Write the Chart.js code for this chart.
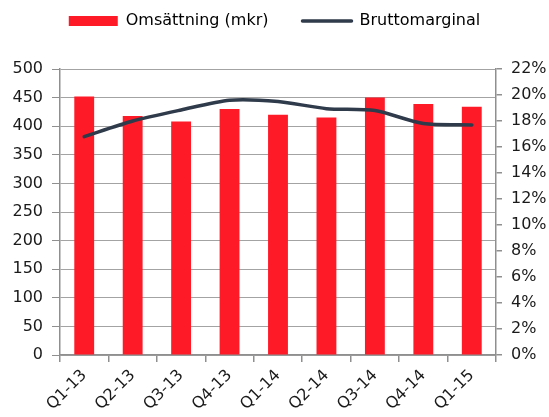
<!DOCTYPE html>
<html>
<head>
<meta charset="utf-8">
<script src="https://cdn.jsdelivr.net/npm/chart.js@4/dist/chart.umd.min.js"></script>
<style>
  html, body { margin: 0; padding: 0; background: #fff; }
  #wrap { width: 549px; height: 417px; }
</style>
</head>
<body>
<div id="wrap"><canvas id="chart" width="549" height="417"></canvas></div>
<script>
// Data
const quarters = ['Q1-13', 'Q2-13', 'Q3-13', 'Q4-13', 'Q1-14', 'Q2-14', 'Q3-14', 'Q4-14', 'Q1-15'];
const revenue = [452, 418, 408, 430, 420, 415, 450, 439, 434];          // Omsättning (mkr)
const grossMargin = [16.8, 18.0, 18.85, 19.6, 19.5, 18.95, 18.8, 17.8, 17.7]; // Bruttomarginal (%)
const seriesNames = ['Omsättning (mkr)', 'Bruttomarginal'];

const RED = '#ff1a28';
const NAVY = '#2f3a4a';
const GRID = '#a3a3a3';
const AXIS = '#8f8f8f';
const FONT = { family: '"DejaVu Sans", sans-serif', size: 16 };

Chart.defaults.font = FONT;
Chart.defaults.color = '#1a1a1a';

new Chart(document.getElementById('chart').getContext('2d'), {
    type: 'bar',
    data: {
        labels: quarters,
        datasets: [
            {
                type: 'line',
                label: seriesNames[1],
                data: grossMargin,
                yAxisID: 'y1',
                borderColor: NAVY,
                borderWidth: 3.5,
                borderCapStyle: 'round',
                borderJoinStyle: 'round',
                tension: 0.25,
                pointRadius: 0,
                fill: false,
                order: 0
            },
            {
                type: 'bar',
                label: seriesNames[0],
                data: revenue,
                yAxisID: 'y',
                backgroundColor: RED,
                barPercentage: 0.41,
                categoryPercentage: 1,
                order: 1
            }
        ]
    },
    options: {
        responsive: false,
        animation: false,
        // legend sits high; the empty subtitle below it keeps the plot top at ~69px
        layout: { padding: { top: -21, left: 0, right: 0, bottom: 0 } },
        plugins: {
            tooltip: { enabled: false },
            subtitle: {
                display: true,
                text: '',
                position: 'top',
                weight: 500,
                font: { size: 10 },
                padding: { top: 0, bottom: 18 }
            },
            legend: {
                position: 'top',
                labels: {
                    usePointStyle: true,
                    pointStyleWidth: 49,
                    boxHeight: 10,
                    padding: 34,
                    color: '#1a1a1a',
                    font: FONT,
                    generateLabels: () => [
                        { text: seriesNames[0], pointStyle: 'rect', fillStyle: RED, strokeStyle: RED, lineWidth: 0, datasetIndex: 1 },
                        { text: seriesNames[1], pointStyle: 'line', fillStyle: NAVY, strokeStyle: NAVY, lineWidth: 3.5, lineCap: 'round', datasetIndex: 0 }
                    ]
                }
            }
        },
        scales: {
            x: {
                offset: true,
                grid: {
                    offset: true,
                    drawOnChartArea: false,
                    drawTicks: true,
                    tickLength: 7,
                    color: AXIS,
                    lineWidth: 1.5
                },
                border: { color: AXIS, width: 1.5 },
                ticks: { minRotation: 45, maxRotation: 45, padding: 4, font: FONT },
                afterFit: s => { s.height = 62; }
            },
            y: {
                position: 'left',
                min: 0,
                max: 500,
                ticks: { stepSize: 50, padding: 9, font: FONT },
                grid: { color: GRID, lineWidth: 1, tickLength: 8, tickColor: AXIS },
                border: { color: AXIS, width: 1.5 },
                afterFit: s => { s.width = 60; }
            },
            y1: {
                position: 'right',
                min: 0,
                max: 22,
                ticks: { stepSize: 2, padding: 9, font: FONT, callback: v => v + '%' },
                grid: { drawOnChartArea: false, tickLength: 6, color: AXIS, lineWidth: 1.5 },
                border: { color: AXIS, width: 1.5 },
                afterFit: s => { s.width = 53; }
            }
        }
    }
});
</script>
</body>
</html>
